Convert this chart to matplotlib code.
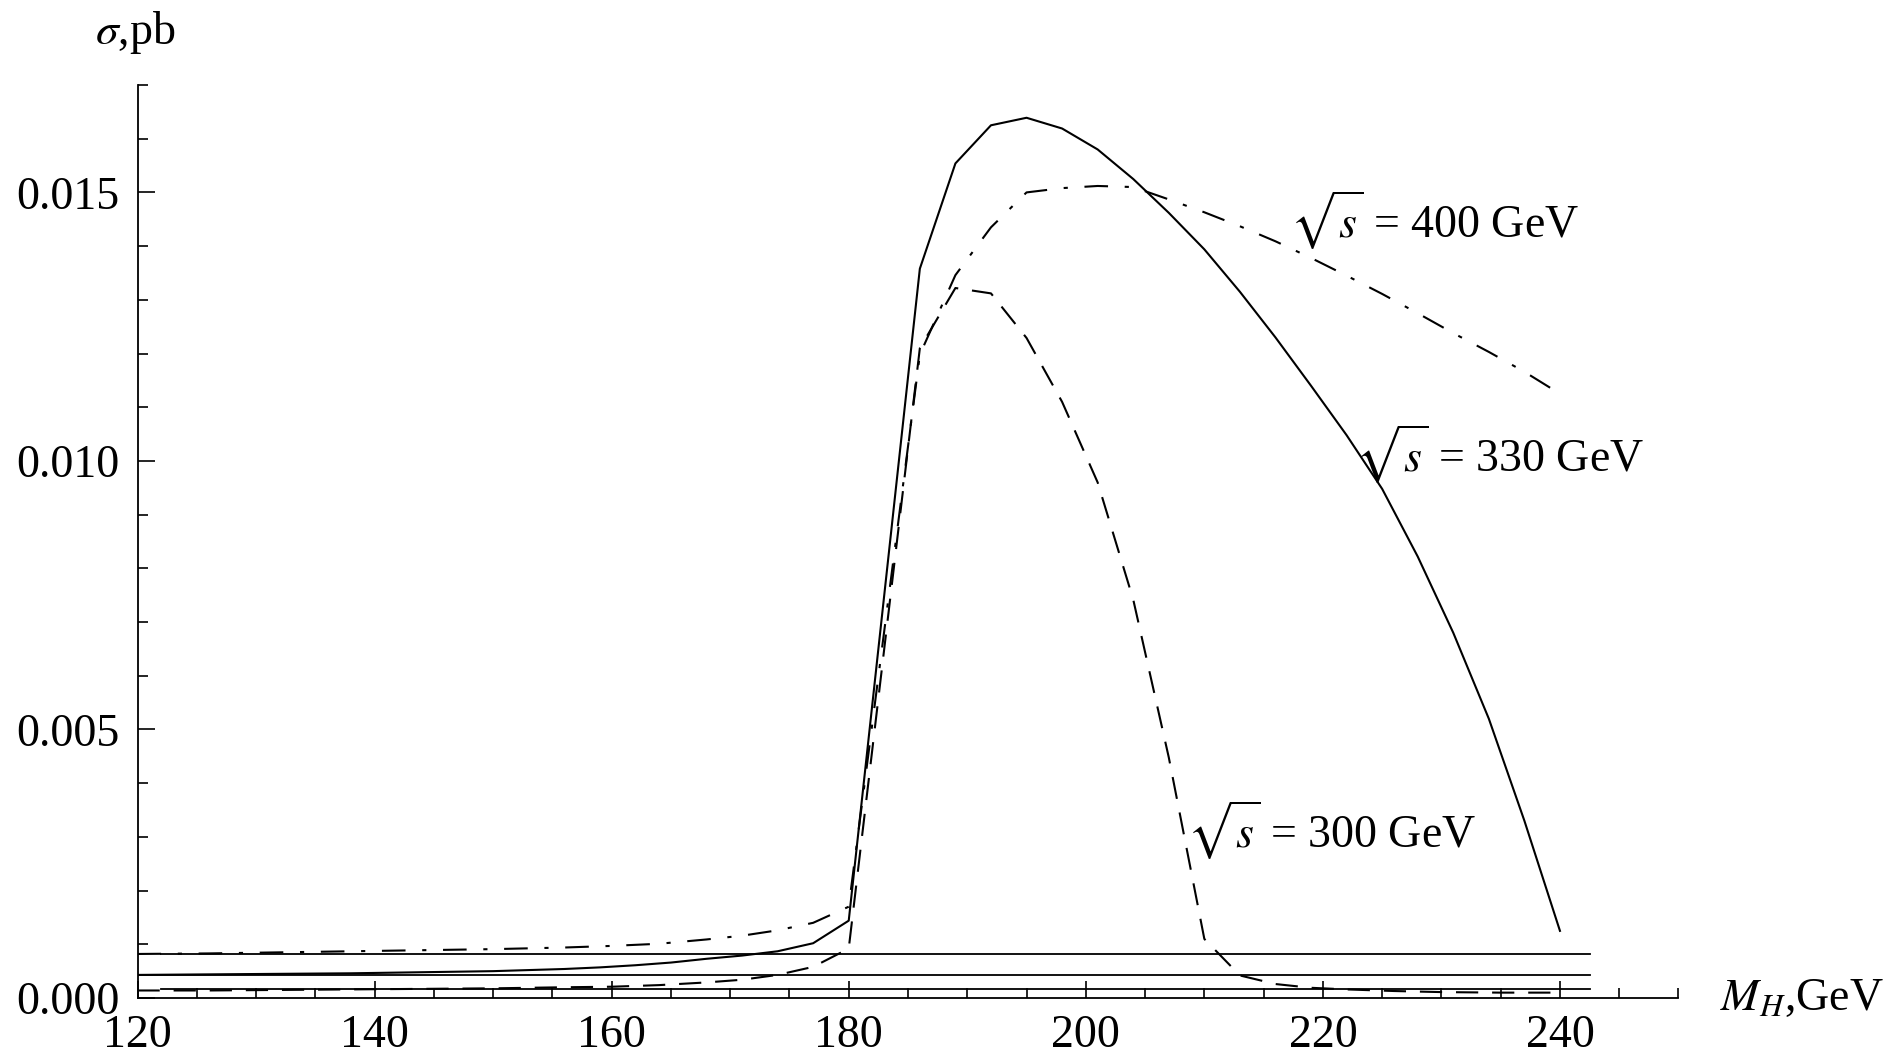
import matplotlib
matplotlib.use("Agg")
import matplotlib.pyplot as plt
from matplotlib.ticker import MultipleLocator, FixedLocator

# ---- data ----
mh_330 = [120, 126, 132, 138, 144, 150, 156, 159, 162, 165, 168, 171, 174, 177, 180,
          186, 189, 192, 195, 198, 201, 204, 207, 210, 213, 216, 219, 222, 225, 228,
          231, 234, 237, 240]
sig_330 = [0.00043, 0.00044, 0.00045, 0.00046, 0.00048, 0.00050, 0.00054, 0.00057, 0.00061,
           0.00066, 0.00073, 0.00079, 0.00087, 0.00102, 0.00144,
           0.01358, 0.01554, 0.01625, 0.01639, 0.01619, 0.01580, 0.01525, 0.01462, 0.01394,
           0.01315, 0.01230, 0.01140, 0.01048, 0.00948, 0.00822, 0.00680, 0.00520, 0.00330,
           0.00125]

mh_400 = [120, 126, 132, 138, 144, 150, 156, 160, 164, 168, 171, 174, 177, 180,
          186, 189, 192, 195, 198, 201, 204, 207, 210, 213, 216, 219, 222, 225, 228,
          231, 234, 237, 240]
sig_400 = [0.00082, 0.00083, 0.00085, 0.00087, 0.00089, 0.00091, 0.00094, 0.00097, 0.00101,
           0.00109, 0.00116, 0.00126, 0.00140, 0.00170,
           0.01198, 0.01346, 0.01435, 0.01500, 0.01508, 0.01512, 0.01510, 0.01487, 0.01463,
           0.01437, 0.01409, 0.01378, 0.01345, 0.01311, 0.01275, 0.01238, 0.01203, 0.01166,
           0.01125]

mh_300 = [120, 126, 132, 138, 144, 150, 156, 160, 164, 168, 171, 174, 177, 180,
          186, 189, 192, 195, 198, 201, 204, 207, 210, 213, 216, 219, 222, 226, 230,
          235, 240]
sig_300 = [0.00014, 0.00014, 0.00015, 0.00016, 0.00017, 0.00018, 0.00020, 0.00021, 0.00024,
           0.00029, 0.00034, 0.00043, 0.00058, 0.00092,
           0.01210, 0.01322, 0.01312, 0.01229, 0.01110, 0.00960, 0.00742, 0.00448, 0.00110,
           0.00042, 0.00026, 0.00019, 0.00016, 0.00013, 0.00011, 0.00010, 0.00010]

# horizontal reference levels
hline_levels = [0.00082, 0.00043, 0.00016]
hline_start = [122, 120, 122]
hline_end = [242.5, 242.5, 242.5]

x_ticks = [120, 140, 160, 180, 200, 220, 240]
x_ticklabels = ["120", "140", "160", "180", "200", "220", "240"]
y_ticks = [0.0, 0.005, 0.010, 0.015]
y_ticklabels = ["0.000", "0.005", "0.010", "0.015"]

curve_labels = [r"$\sqrt{s}$ = 400 GeV", r"$\sqrt{s}$ = 330 GeV", r"$\sqrt{s}$ = 300 GeV"]
label_pos = [(217.2, 0.01415), (222.7, 0.00980), (208.5, 0.00279)]

# ---- style ----
plt.rcParams["font.family"] = ["Liberation Serif", "DejaVu Serif"]
plt.rcParams["mathtext.fontset"] = "stix"
plt.rcParams["lines.scale_dashes"] = False

fig = plt.figure(figsize=(18.95, 10.54), dpi=100)
ax = fig.add_axes([0.07256, 0.05313, 0.81319, 0.86622])
ax.set_xlim(120, 250)
ax.set_ylim(0, 0.017)

for s in ["top", "right"]:
    ax.spines[s].set_visible(False)
for s in ["left", "bottom"]:
    ax.spines[s].set_linewidth(1.3)

lw = 1.5
ax.plot(mh_330, sig_330, color="black", lw=lw, ls="-")
ax.plot(mh_400, sig_400, color="black", lw=lw, ls=(0, (17, 12, 3, 12)))
ax.plot(mh_300, sig_300, color="black", lw=lw, ls=(0, (16, 10)))
for lev, x0, x1 in zip(hline_levels, hline_start, hline_end):
    ax.plot([x0, x1], [lev, lev], color="black", lw=1.3)

fs = 33
ax.xaxis.set_major_locator(FixedLocator(x_ticks))
ax.set_xticklabels(x_ticklabels)
ax.xaxis.set_minor_locator(MultipleLocator(5))
ax.yaxis.set_major_locator(FixedLocator(y_ticks))
ax.set_yticklabels(y_ticklabels)
ax.yaxis.set_minor_locator(MultipleLocator(0.001))
ax.tick_params(which="both", direction="in", width=1.2, labelsize=fs, color="black")
ax.tick_params(which="major", length=12.5)
ax.tick_params(which="minor", length=7)
ax.tick_params(axis="x", which="major", pad=12)
ax.tick_params(axis="y", which="major", pad=13)

for txt, (xx, yy) in zip(curve_labels, label_pos):
    ax.text(xx, yy, txt, fontsize=fs, ha="left", va="baseline")

fig.text(0.0712, 0.9696, r"$\sigma$,pb", fontsize=fs, ha="center", va="center")
fig.text(0.9077, 0.0417, r"$M_H$,GeV", fontsize=fs, ha="left", va="baseline")

fig.savefig("out.png", dpi=100)
